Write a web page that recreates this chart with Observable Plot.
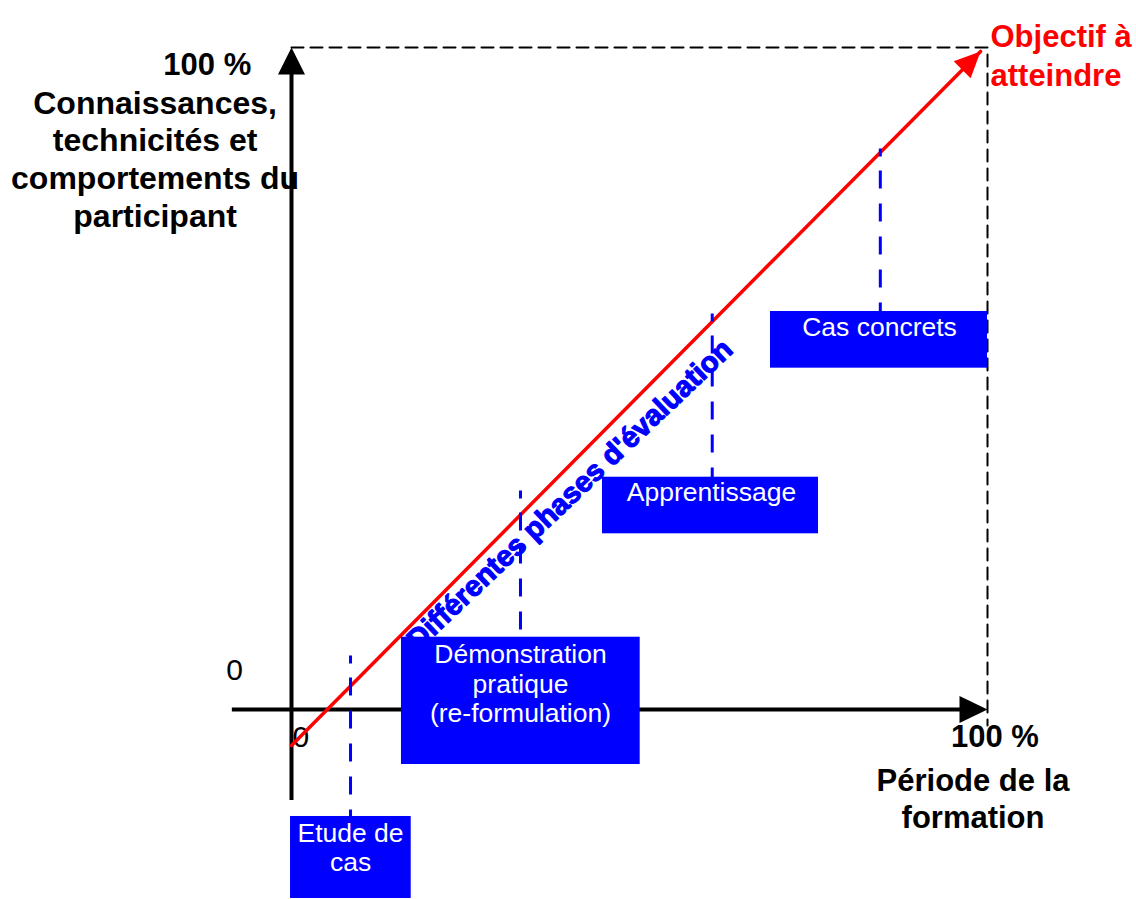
<!DOCTYPE html>
<html>
<head>
<meta charset="utf-8">
<script src="https://cdn.jsdelivr.net/npm/d3@7"></script>
<script src="https://cdn.jsdelivr.net/npm/@observablehq/plot@0.6"></script>
<style>
  html, body { margin: 0; padding: 0; background: #ffffff; }
  #chart svg { display: block; }
</style>
</head>
<body>
<div id="chart"></div>
<script>
// ---- Data (in percent units: x = période de la formation, y = connaissances) ----
const phaseLabels = ["Etude de\ncas", "Démonstration\npratique\n(re-formulation)", "Apprentissage", "Cas concrets"];
const phaseX = [8.48, 32.9, 60.45, 84.6];          // position of each phase on the period axis
const phaseLevel = [8.16, 33.08, 59.82, 84.74];     // top of each leader line
const boxLeft = [-0.14, 15.8, 44.68, 68.82];
const boxRight = [17.2, 50.1, 75.72, 100];
const boxBottom = [-28.55, -8.31, 26.54, 51.56];
const boxTop = [-16.16, 10.92, 35.09, 60.12];
const labelCenterX = [8.48, 32.9, 60.34, 84.48];
const labelCenterY = [-20.8, 3.97, 32.98, 57.9];

const objectiveX = [0, 99];        // red progression line
const objectiveY = [-5.44, 99.4];

const frameX = [0, 100, 100];      // dashed target frame
const frameY = [100, 100, -2.4];

const xAxisSpan = [-8.5, 97];      // horizontal axis (y = 0)
const yAxisSpan = [-13.75, 97];    // vertical axis (x = 0)
const axisTip = 100;

const yTitleLines = ["Connaissances,\ntechnicités et\ncomportements du\nparticipant"];
const tickTexts = ["0", "0", "100 %", "100 %"];
const tickX = [-8.19, 1.36, 101.06, -12.1];
const tickY = [5.97, -4.15, -4.23, 97.4];
const xTitle = "Période de la\nformation";
const objectiveLabel = "Objectif à\natteindre";
const diagonalLabel = "Différentes phases d'évaluation";

// ---- Build mark tables from the arrays ----
const phases = phaseLabels.map((label, i) => ({
  label, x: phaseX[i], level: phaseLevel[i],
  x1: boxLeft[i], x2: boxRight[i], y1: boxBottom[i], y2: boxTop[i],
  lx: labelCenterX[i], ly: labelCenterY[i]
}));
const objective = objectiveX.map((x, i) => ({x, y: objectiveY[i]}));
const frame = frameX.map((x, i) => ({x, y: frameY[i]}));
const ticks = tickTexts.map((t, i) => ({t, x: tickX[i], y: tickY[i]}));

// arrowhead symbol: tip at origin, pointing up
const arrowHead = (w, h) => ({
  draw(ctx) {
    ctx.moveTo(0, 0);
    ctx.lineTo(w / 2, h);
    ctx.lineTo(-w / 2, h);
    ctx.closePath();
  }
});

const FONT = "'Liberation Sans', Arial, Helvetica, sans-serif";
const BLUE = "#0000ff";
const RED = "#ff0000";

const chart = Plot.plot({
  width: 1136,
  height: 899,
  marginTop: 0, marginRight: 0, marginBottom: 0, marginLeft: 0,
  x: {domain: [0, 100], range: [291, 987], axis: null},
  y: {domain: [0, 100], range: [709, 47], axis: null},
  style: {background: "#ffffff", fontFamily: FONT},
  marks: [
    // dashed target frame
    Plot.line(frame, {x: "x", y: "y", stroke: "#000", strokeWidth: 2, strokeDasharray: "12,7"}),
    // axes
    Plot.ruleX([0], {y1: yAxisSpan[0], y2: yAxisSpan[1], stroke: "#000", strokeWidth: 4}),
    Plot.ruleY([0], {x1: xAxisSpan[0], x2: xAxisSpan[1], stroke: "#000", strokeWidth: 4}),
    Plot.dot([{x: 0, y: axisTip}], {x: "x", y: "y", symbol: arrowHead(27, 27), fill: "#000", stroke: null, rotate: 0}),
    Plot.dot([{x: axisTip, y: 0}], {x: "x", y: "y", symbol: arrowHead(27, 28), fill: "#000", stroke: null, rotate: 90}),
    // tick labels
    Plot.text(ticks.slice(0, 2), {x: "x", y: "y", text: "t", fontSize: 30, fill: "#000", textAnchor: "middle"}),
    Plot.text(ticks.slice(2), {x: "x", y: "y", text: "t", fontSize: 31, fontWeight: "bold", fill: "#000", textAnchor: "middle"}),
    // axis titles
    Plot.text(yTitleLines, {x: () => -19.6, y: () => 83.3, text: d => d, fontSize: 32, fontWeight: "bold", fill: "#000", textAnchor: "middle", lineAnchor: "middle", lineHeight: 1.18}),
    Plot.text([xTitle], {x: () => 97.92, y: () => -13.34, text: d => d, fontSize: 31, fontWeight: "bold", fill: "#000", textAnchor: "middle", lineAnchor: "middle", lineHeight: 1.19}),
    // diagonal label
    Plot.text([diagonalLabel], {x: () => 40.0, y: () => 32.45, text: d => d, rotate: -43.5, fontSize: 29, fontWeight: "bold", fill: BLUE, stroke: BLUE, strokeWidth: 1.2, textAnchor: "middle", lineAnchor: "middle"}),
    // red progression line with arrow
    Plot.line(objective, {x: "x", y: "y", stroke: RED, strokeWidth: 3.5}),
    Plot.dot(objective.slice(1), {x: "x", y: "y", symbol: arrowHead(24, 26), fill: RED, stroke: null, rotate: 45}),
    Plot.text([objectiveLabel], {x: () => 100.43, y: () => 99.08, text: d => d, fontSize: 31, fontWeight: "bold", fill: RED, textAnchor: "start", lineAnchor: "middle", lineHeight: 1.26}),
    // leader lines (drawn from the top down)
    Plot.link(phases, {x1: "x", x2: "x", y1: "level", y2: "y2", stroke: BLUE, strokeWidth: 3, strokeDasharray: "8,14,18,15,18,15,18,15,18,15,18,15"}),
    // phase boxes
    Plot.rect(phases, {x1: "x1", x2: "x2", y1: "y1", y2: "y2", fill: BLUE}),
    Plot.text(phases, {x: "lx", y: "ly", text: "label", fontSize: 26.5, fill: "#fff", textAnchor: "middle", lineAnchor: "middle", lineHeight: 1.1})
  ]
});

document.getElementById("chart").appendChild(chart);
</script>
</body>
</html>
